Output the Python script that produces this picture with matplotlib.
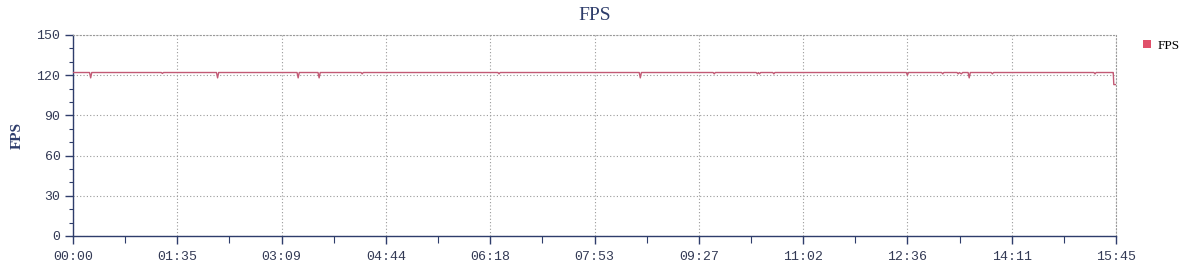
import matplotlib
matplotlib.use("Agg")
import matplotlib.pyplot as plt
from matplotlib.ticker import FixedLocator, FuncFormatter, MultipleLocator

t_sec = [0, 15, 16, 17, 80, 81, 82, 130, 131, 132, 203, 204, 205, 222, 223, 224,
         261, 262, 263, 385, 386, 387, 513, 514, 515, 580, 581, 582, 619, 620, 621,
         622, 623, 634, 635, 636, 755, 756, 757, 787, 788, 789, 801, 802, 803, 805,
         806, 811, 812, 813, 832, 833, 834, 925, 926, 927, 942, 942.5, 943, 945]
fps = [122, 122, 118, 122, 122, 121.3, 122, 122, 118, 122, 122, 118, 122, 122, 118, 122,
       122, 121, 122, 122, 121, 122, 122, 118, 122, 122, 121, 122, 122, 121, 122,
       121, 122, 122, 121, 122, 122, 120, 122, 122, 121, 122, 122, 121, 122, 121,
       122, 122, 118, 122, 122, 121, 122, 122, 121, 122, 122, 122, 113, 113]

x_ticks = [0, 94.5, 189, 283.5, 378, 472.5, 567, 661.5, 756, 850.5, 945]
y_ticks = [0, 30, 60, 90, 120, 150]

NAVY = "#2e3d6b"
LINE_C = "#c25a75"
LEG_C = "#e0506a"
SERIF = ["Liberation Serif", "DejaVu Serif"]
MONO = ["Liberation Mono", "DejaVu Sans Mono"]


def mmss(v, pos=None):
    s = int(v + 0.5)
    return f"{s // 60:02d}:{s % 60:02d}"


fig = plt.figure(figsize=(11.87, 2.75), dpi=100)
ax = fig.add_axes([73 / 1187, 1 - 236 / 275, (1116 - 73) / 1187, (236 - 35) / 275])

ax.plot(t_sec, fps, color=LINE_C, lw=1.0, label="FPS", zorder=3)

ax.set_xlim(0, 945)
ax.set_ylim(0, 150)
ax.xaxis.set_major_locator(FixedLocator(x_ticks))
ax.xaxis.set_minor_locator(FixedLocator([x + 47.25 for x in x_ticks[:-1]]))
ax.xaxis.set_major_formatter(FuncFormatter(mmss))
ax.yaxis.set_major_locator(FixedLocator(y_ticks))
ax.yaxis.set_minor_locator(MultipleLocator(10))

ax.grid(True, which="major", color="#9a9a9a", ls=(0, (1, 2)), lw=0.8, zorder=1)

for side in ("top", "right"):
    ax.spines[side].set_color("#9a9a9a")
    ax.spines[side].set_linestyle((0, (1, 2)))
    ax.spines[side].set_linewidth(0.8)
for side in ("left", "bottom"):
    ax.spines[side].set_color(NAVY)
    ax.spines[side].set_linewidth(1.0)

ax.tick_params(axis="both", which="major", direction="out", length=6, width=1,
               color=NAVY, labelsize=9.5, labelcolor="#333a55", pad=3)
ax.tick_params(axis="y", which="minor", direction="out", length=3, width=0.8, color=NAVY)
ax.tick_params(axis="x", which="minor", direction="out", length=5, width=0.8, color=NAVY)
ax.tick_params(axis="x", which="major", pad=5)
for lab in ax.get_xticklabels() + ax.get_yticklabels():
    lab.set_family(MONO)

ax.set_title("FPS", family=SERIF, fontsize=14, color=NAVY, pad=11)
ax.set_ylabel("FPS", family=SERIF, fontsize=11, fontweight="bold", color=NAVY, labelpad=9)

fig.legend(handles=[plt.Rectangle((0, 0), 1, 1, fc=LEG_C, ec="none")], labels=["FPS"],
           loc="upper left", bbox_to_anchor=(1131 / 1187, 1 - 28 / 275), frameon=False,
           handlelength=0.6, handleheight=0.6, handletextpad=0.5,
           prop={"family": SERIF, "size": 9.5})

fig.savefig("out.png", dpi=100)
